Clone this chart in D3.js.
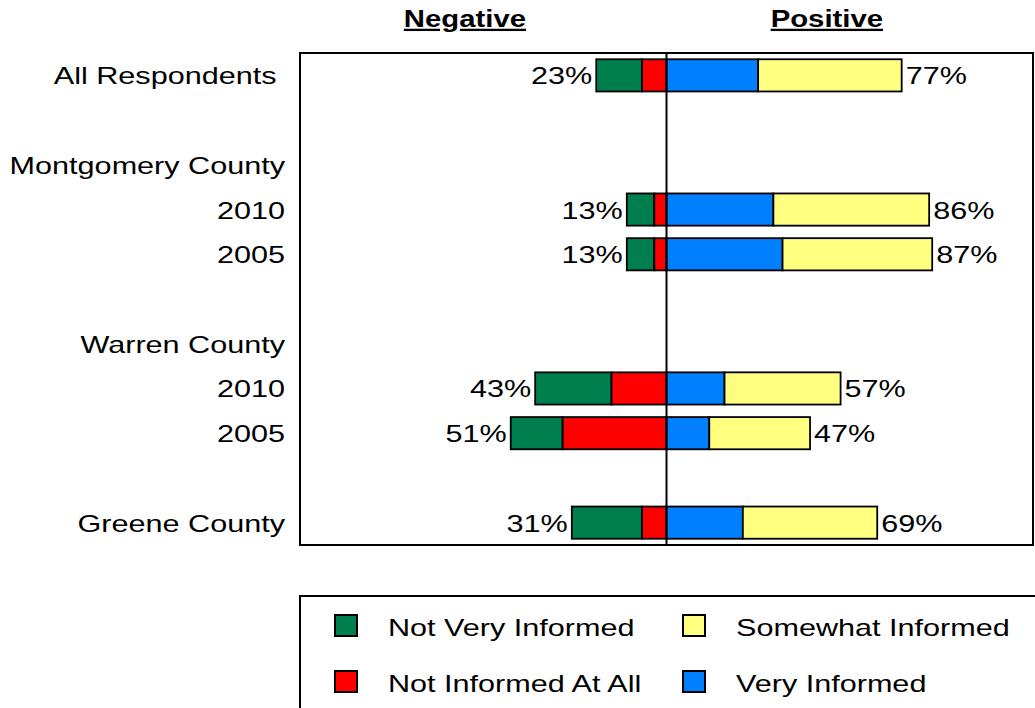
<!DOCTYPE html>
<html>
<head>
<meta charset="utf-8">
<script src="https://cdn.jsdelivr.net/npm/d3@7"></script>
<style>
  html, body { margin: 0; padding: 0; background: #fff; }
  svg { display: block; }
  text { font-family: "Liberation Sans", Arial, sans-serif; fill: #000; }
</style>
</head>
<body>
<svg id="chart" width="1035" height="708"></svg>
<script>
// ---- data ----
const rowLabels = ["All Respondents ", "", "Montgomery County", "2010", "2005", "", "Warren County", "2010", "2005", "", "Greene County"];
const notVeryInformed   = [15, null, null,  9,  9, null, null, 25, 17, null, 23];
const notInformedAtAll  = [ 8, null, null,  4,  4, null, null, 18, 34, null,  8];
const veryInformed      = [30, null, null, 35, 38, null, null, 19, 14, null, 25];
const somewhatInformed  = [47, null, null, 51, 49, null, null, 38, 33, null, 44];
const seriesNames = ["Not Very Informed", "Not Informed At All", "Somewhat Informed", "Very Informed"];
const seriesColors = ["#007F4E", "#FF0000", "#FFFF80", "#0080FF"];
const headers = ["Negative", "Positive"];

// ---- layout ----
const svg = d3.select("#chart");
const SX = 1.275;         // horizontal text stretch seen in reference
const FS = 24;
const plot = {left: 300, right: 1033, top: 53, bottom: 545};

const x = d3.scaleLinear().domain([-120, 120]).range([plot.left, plot.right]);
const y = d3.scaleBand().domain(d3.range(rowLabels.length)).range([plot.top, plot.bottom]).paddingInner(0.28).paddingOuter(0.14);

function stretchedText(g, tx, ty, txt, anchor, opts = {}) {
  const t = g.append("text")
    .attr("transform", `translate(${tx},${ty}) scale(${SX},1)`)
    .attr("text-anchor", anchor)
    .style("font-size", (opts.size || FS) + "px")
    .style("white-space", "pre")
    .text(txt);
  if (opts.bold) t.style("font-weight", "bold");
  if (opts.underline) t.style("text-decoration", "underline");
  return t;
}

// plot frame
svg.append("rect")
  .attr("x", plot.left).attr("y", plot.top)
  .attr("width", plot.right - plot.left).attr("height", plot.bottom - plot.top)
  .attr("fill", "#fff").attr("stroke", "#000").attr("stroke-width", 2);

// headers
stretchedText(svg, x(-66), 27, headers[0], "middle", {bold: true, underline: true, size: 23});
stretchedText(svg, x(52.5), 27, headers[1], "middle", {bold: true, underline: true, size: 23});

// category labels
rowLabels.forEach((lab, i) => {
  if (!lab) return;
  stretchedText(svg, 285, y(i) + y.bandwidth() / 2 + 9, lab, "end");
});

// bars
const rows = rowLabels.map((lab, i) => ({
  i, nv: notVeryInformed[i], na: notInformedAtAll[i], vi: veryInformed[i], sw: somewhatInformed[i]
})).filter(d => d.nv != null);

const bars = svg.append("g");
rows.forEach(d => {
  const segs = [
    {x0: -(d.na + d.nv), x1: -d.na, c: seriesColors[0]},
    {x0: -d.na, x1: 0, c: seriesColors[1]},
    {x0: 0, x1: d.vi, c: seriesColors[3]},
    {x0: d.vi, x1: d.vi + d.sw, c: seriesColors[2]}
  ];
  bars.selectAll(null).data(segs).enter().append("rect")
    .attr("x", s => x(s.x0)).attr("width", s => x(s.x1) - x(s.x0))
    .attr("y", y(d.i)).attr("height", y.bandwidth())
    .attr("fill", s => s.c).attr("stroke", "#000").attr("stroke-width", 1.8);
  const cy = y(d.i) + y.bandwidth() / 2 + 9;
  stretchedText(bars, x(-(d.na + d.nv)) - 4, cy, (d.na + d.nv) + "%", "end");
  stretchedText(bars, x(d.vi + d.sw) + 4, cy, (d.vi + d.sw) + "%", "start");
});

// center line
svg.append("line")
  .attr("x1", x(0)).attr("x2", x(0))
  .attr("y1", plot.top).attr("y2", plot.bottom)
  .attr("stroke", "#000").attr("stroke-width", 2);

// legend
const lg = svg.append("g");
lg.append("rect").attr("x", 300).attr("y", 596).attr("width", 800).attr("height", 200)
  .attr("fill", "#fff").attr("stroke", "#000").attr("stroke-width", 2);
const legendItems = [
  {name: seriesNames[0], c: seriesColors[0], col: 0, row: 0},
  {name: seriesNames[1], c: seriesColors[1], col: 0, row: 1},
  {name: seriesNames[2], c: seriesColors[2], col: 1, row: 0},
  {name: seriesNames[3], c: seriesColors[3], col: 1, row: 1}
];
const colX = [335, 683], rowY = [615, 671];
legendItems.forEach(it => {
  lg.append("rect").attr("x", colX[it.col]).attr("y", rowY[it.row])
    .attr("width", 22).attr("height", 21)
    .attr("fill", it.c).attr("stroke", "#000").attr("stroke-width", 2);
  stretchedText(lg, colX[it.col] + 53, rowY[it.row] + 21, it.name, "start");
});
</script>
</body>
</html>
